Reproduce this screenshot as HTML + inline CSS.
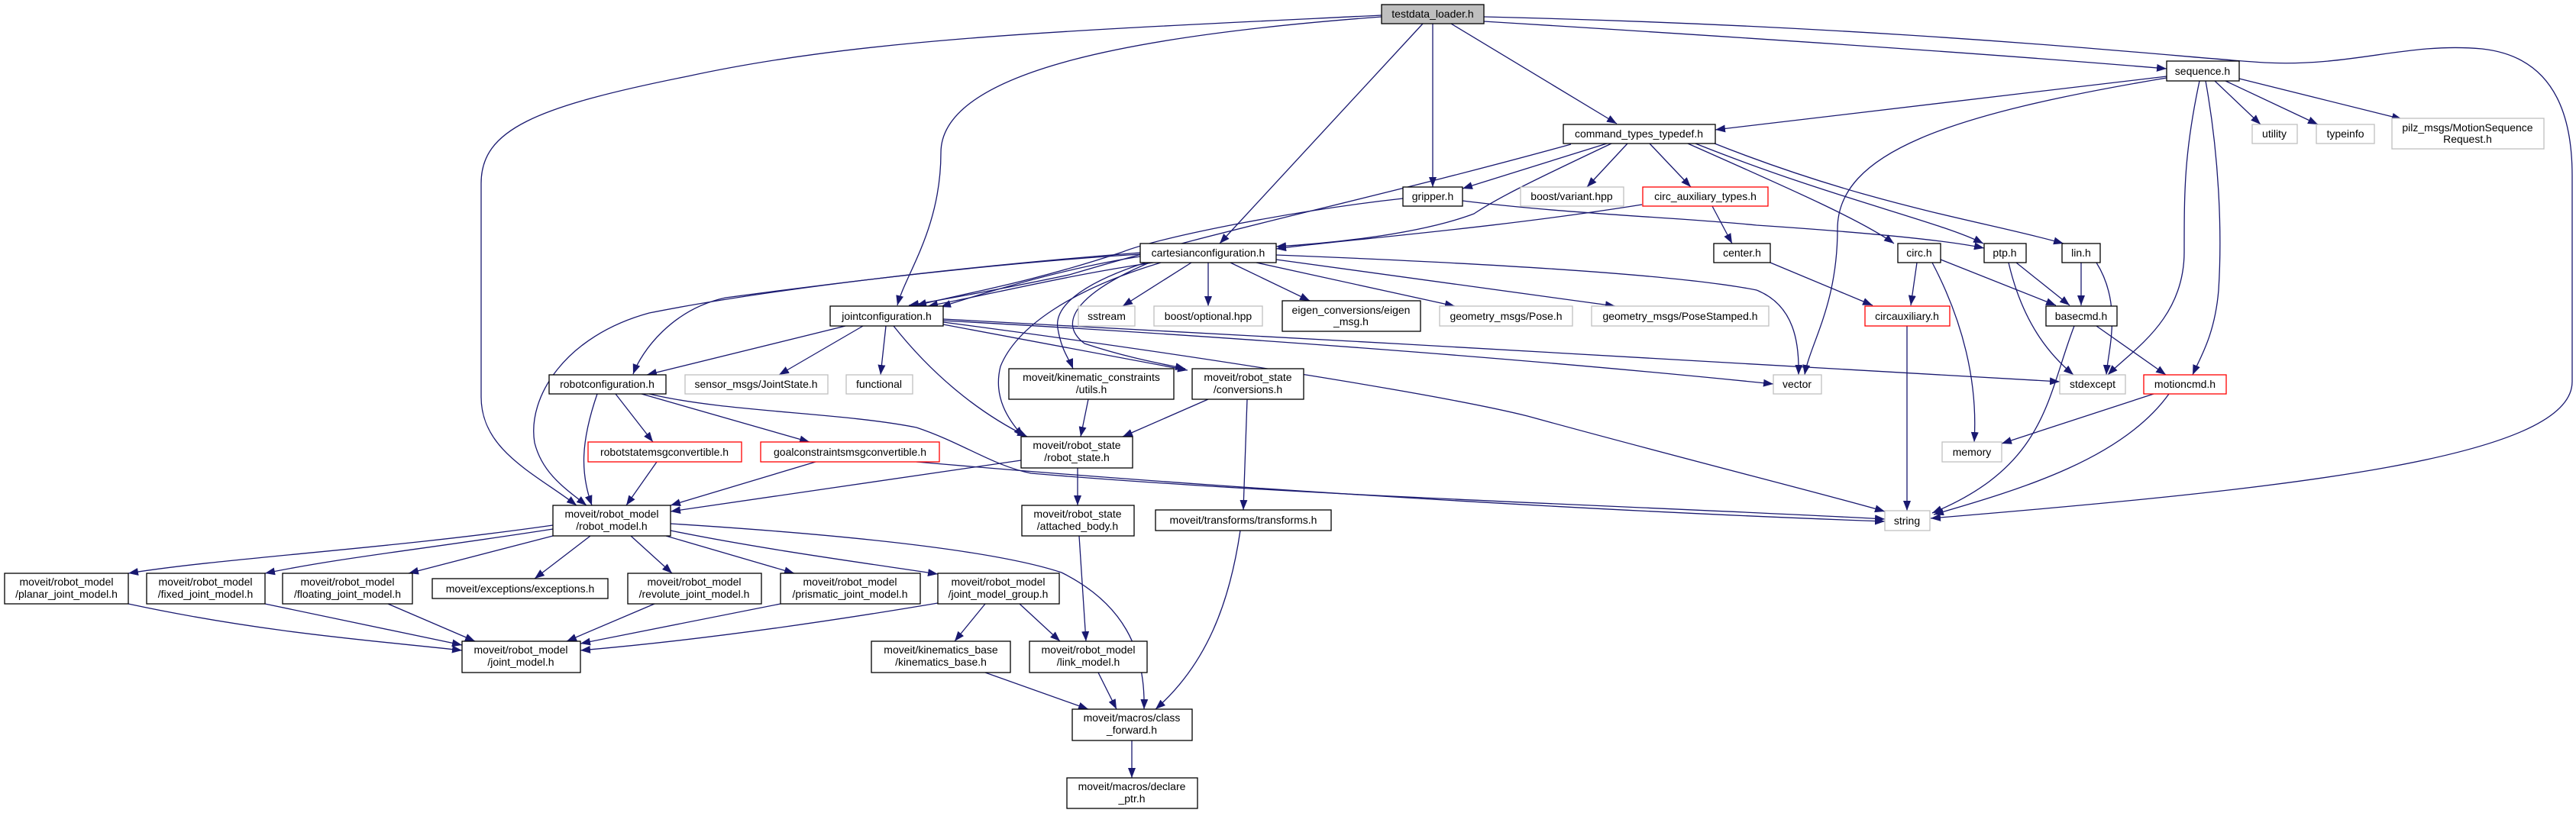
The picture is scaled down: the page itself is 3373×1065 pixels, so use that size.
<!DOCTYPE html>
<html><head><meta charset="utf-8"><style>
html,body{margin:0;padding:0;background:#fff;}
svg{display:block;}
text{font-family:"Liberation Sans",sans-serif;font-size:14px;fill:#000;text-anchor:middle;}
.e{fill:none;stroke:#191970;stroke-width:1.3;marker-end:url(#a);}
.n{fill:#fff;stroke:#000;stroke-width:1.3;}
.g{fill:#fff;stroke:#bfbfbf;stroke-width:1.3;}
.r{fill:#fff;stroke:#ff0000;stroke-width:1.3;}
</style></head><body>
<svg width="3373" height="1065" viewBox="0 0 3373 1065" xmlns="http://www.w3.org/2000/svg">
<defs><marker id="a" markerUnits="userSpaceOnUse" markerWidth="14" markerHeight="10" refX="13" refY="5" orient="auto"><path d="M0,0 L13,5 L0,10 z" fill="#191970"/></marker></defs>
<g>
<path class="e" d="M1943,28 C2300,50 2600,70 2837,90"/>
<path class="e" d="M1943,22 C2500,35 2850,75 2965,82 C3080,88 3150,55 3250,64 C3350,75 3368,160 3368,230 L3368,500 C3368,600 3000,640 2528,679"/>
<path class="e" d="M1900,31 L2117,162"/>
<path class="e" d="M1876,31 L1876,245"/>
<path class="e" d="M1863,31 L1597,319"/>
<path class="e" d="M1809,22 C1500,45 1232,90 1232,200 C1232,300 1185,360 1175,400"/>
<path class="e" d="M1809,20 C1400,40 1130,50 900,100 C700,140 630,170 630,240 L630,520 C630,590 700,620 755,662"/>
<path class="e" d="M2837,100 L2246,170"/>
<path class="e" d="M2837,102 C2550,150 2406,200 2406,300 C2406,400 2370,450 2363,491"/>
<path class="e" d="M2880,106 C2860,200 2860,250 2860,330 C2860,420 2790,460 2760,491"/>
<path class="e" d="M2888,106 C2905,200 2910,300 2905,380 C2900,440 2880,470 2871,491"/>
<path class="e" d="M2900,106 L2960,163"/>
<path class="e" d="M2914,106 L3035,163"/>
<path class="e" d="M2932,103 L3145,156"/>
<path class="e" d="M2104,188 L1915,247"/>
<path class="e" d="M2131,188 L2078,245"/>
<path class="e" d="M2160,188 L2214,245"/>
<path class="e" d="M2110,188 C2000,240 1960,260 1930,280 C1850,310 1720,320 1671,323"/>
<path class="e" d="M2057,189 C1800,260 1600,300 1400,360 C1280,385 1220,395 1190,400"/>
<path class="e" d="M2210,188 C2350,250 2440,290 2480,319"/>
<path class="e" d="M2220,188 C2400,260 2540,290 2597,319"/>
<path class="e" d="M2240,186 C2450,270 2600,290 2702,319"/>
<path class="e" d="M1837,260 C1700,275 1520,310 1470,330 C1350,370 1260,385 1200,400"/>
<path class="e" d="M1915,263 C2050,280 2200,285 2300,295 C2450,305 2550,315 2598,325"/>
<path class="e" d="M2242,270 L2268,319"/>
<path class="e" d="M2150,268 C1950,300 1750,315 1671,326"/>
<path class="e" d="M2318,344 L2452,400"/>
<path class="e" d="M2510,344 L2502,400"/>
<path class="e" d="M2541,340 L2692,400"/>
<path class="e" d="M2530,344 C2570,420 2590,500 2585,579"/>
<path class="e" d="M2640,344 L2710,400"/>
<path class="e" d="M2630,344 C2650,430 2690,470 2715,491"/>
<path class="e" d="M2725,344 L2725,400"/>
<path class="e" d="M2745,344 C2780,400 2760,460 2758,491"/>
<path class="e" d="M2497,427 L2497,669"/>
<path class="e" d="M2745,427 L2836,491"/>
<path class="e" d="M2716,427 C2680,520 2680,610 2530,672"/>
<path class="e" d="M2820,516 L2621,581"/>
<path class="e" d="M2840,516 C2780,600 2650,640 2532,674"/>
<path class="e" d="M1493,336 C1400,350 1300,380 1232,402"/>
<path class="e" d="M1510,344 C1400,360 1300,385 1215,401"/>
<path class="e" d="M1493,333 C1300,345 1100,370 950,390 C880,405 840,460 829,490"/>
<path class="e" d="M1493,331 C1250,350 1000,380 850,410 C740,440 690,520 700,580 C710,620 740,640 768,662"/>
<path class="e" d="M1560,344 L1470,401"/>
<path class="e" d="M1582,344 L1582,401"/>
<path class="e" d="M1611,344 L1715,394"/>
<path class="e" d="M1645,344 L1905,401"/>
<path class="e" d="M1671,340 L2115,401"/>
<path class="e" d="M1671,334 C1950,345 2200,360 2300,380 C2350,400 2356,450 2355,491"/>
<path class="e" d="M1500,344 C1420,370 1380,400 1385,430 C1390,460 1400,470 1405,483"/>
<path class="e" d="M1505,344 C1420,380 1380,420 1420,450 C1480,470 1530,478 1552,483"/>
<path class="e" d="M1520,344 C1400,380 1330,430 1310,480 C1300,520 1320,550 1340,572"/>
<path class="e" d="M1107,427 L847,491"/>
<path class="e" d="M1130,427 L1020,491"/>
<path class="e" d="M1160,427 L1153,491"/>
<path class="e" d="M1170,427 C1220,490 1280,540 1345,572"/>
<path class="e" d="M1235,425 L1555,485"/>
<path class="e" d="M1235,420 C1600,440 2000,470 2322,503"/>
<path class="e" d="M1235,418 C1700,440 2300,480 2697,500"/>
<path class="e" d="M1235,422 C1600,470 1900,520 2000,545 C2200,600 2400,650 2468,670"/>
<path class="e" d="M850,516 C950,540 1100,540 1200,560 C1260,580 1300,610 1350,620 C1700,650 2200,665 2468,680"/>
<path class="e" d="M1200,605 C1600,640 2100,670 2468,683"/>
<path class="e" d="M782,516 C760,580 760,620 775,662"/>
<path class="e" d="M806,516 L855,579"/>
<path class="e" d="M840,516 L1060,579"/>
<path class="e" d="M860,605 L820,662"/>
<path class="e" d="M1068,605 L878,662"/>
<path class="e" d="M1425,523 L1415,572"/>
<path class="e" d="M1582,523 L1470,572"/>
<path class="e" d="M1633,523 L1628,668"/>
<path class="e" d="M1337,603 L878,670"/>
<path class="e" d="M1411,613 L1411,662"/>
<path class="e" d="M1413,702 L1422,840"/>
<path class="e" d="M1624,695 C1610,790 1580,870 1513,929"/>
<path class="e" d="M724,688 C500,720 300,730 168,751"/>
<path class="e" d="M724,693 C550,720 450,730 347,751"/>
<path class="e" d="M724,702 L535,751"/>
<path class="e" d="M773,702 L700,758"/>
<path class="e" d="M826,702 L880,751"/>
<path class="e" d="M872,702 L1040,751"/>
<path class="e" d="M878,695 C1000,720 1150,740 1228,752"/>
<path class="e" d="M878,686 C1100,700 1300,720 1390,750 C1470,790 1500,850 1498,929"/>
<path class="e" d="M168,791 C350,830 500,840 605,852"/>
<path class="e" d="M347,791 L605,845"/>
<path class="e" d="M508,791 L622,840"/>
<path class="e" d="M857,791 L742,840"/>
<path class="e" d="M1022,791 L760,843"/>
<path class="e" d="M1228,790 C1050,820 900,840 760,852"/>
<path class="e" d="M1290,791 L1250,840"/>
<path class="e" d="M1335,791 L1388,840"/>
<path class="e" d="M1290,881 L1425,929"/>
<path class="e" d="M1438,881 L1462,929"/>
<path class="e" d="M1482,970 L1482,1019"/>
</g>
<g>
<rect x="1809" y="6" width="134" height="25" fill="#bfbfbf" stroke="#000" stroke-width="1.3"/><text x="1876" y="23">testdata_loader.h</text>
<rect class="n" x="2837" y="80" width="95" height="26"/><text x="2884" y="98">sequence.h</text>
<rect class="n" x="2047" y="163" width="199" height="25"/><text x="2146" y="180">command_types_typedef.h</text>
<rect class="g" x="2949" y="163" width="59" height="25"/><text x="2978" y="180">utility</text>
<rect class="g" x="3033" y="163" width="76" height="25"/><text x="3071" y="180">typeinfo</text>
<rect class="g" x="3132" y="155" width="199" height="40"/><text x="3231" y="172">pilz_msgs/MotionSequence</text><text x="3231" y="187">Request.h</text>
<rect class="n" x="1837" y="245" width="78" height="25"/><text x="1876" y="262">gripper.h</text>
<rect class="g" x="1991" y="245" width="135" height="25"/><text x="2058" y="262">boost/variant.hpp</text>
<rect class="r" x="2151" y="245" width="164" height="25"/><text x="2233" y="262">circ_auxiliary_types.h</text>
<rect class="n" x="1493" y="319" width="178" height="25"/><text x="1582" y="336">cartesianconfiguration.h</text>
<rect class="n" x="2244" y="319" width="74" height="25"/><text x="2281" y="336">center.h</text>
<rect class="n" x="2485" y="319" width="56" height="25"/><text x="2513" y="336">circ.h</text>
<rect class="n" x="2598" y="319" width="55" height="25"/><text x="2625" y="336">ptp.h</text>
<rect class="n" x="2700" y="319" width="50" height="25"/><text x="2725" y="336">lin.h</text>
<rect class="n" x="1087" y="401" width="148" height="26"/><text x="1161" y="419">jointconfiguration.h</text>
<rect class="g" x="1412" y="401" width="74" height="26"/><text x="1449" y="419">sstream</text>
<rect class="g" x="1511" y="401" width="142" height="26"/><text x="1582" y="419">boost/optional.hpp</text>
<rect class="n" x="1679" y="394" width="181" height="40"/><text x="1769" y="411">eigen_conversions/eigen</text><text x="1769" y="426">_msg.h</text>
<rect class="g" x="1885" y="401" width="174" height="26"/><text x="1972" y="419">geometry_msgs/Pose.h</text>
<rect class="g" x="2084" y="401" width="232" height="26"/><text x="2200" y="419">geometry_msgs/PoseStamped.h</text>
<rect class="r" x="2442" y="401" width="111" height="26"/><text x="2497" y="419">circauxiliary.h</text>
<rect class="n" x="2679" y="401" width="93" height="26"/><text x="2725" y="419">basecmd.h</text>
<rect class="n" x="719" y="491" width="153" height="25"/><text x="795" y="508">robotconfiguration.h</text>
<rect class="g" x="897" y="491" width="187" height="25"/><text x="990" y="508">sensor_msgs/JointState.h</text>
<rect class="g" x="1108" y="491" width="87" height="25"/><text x="1151" y="508">functional</text>
<rect class="n" x="1321" y="483" width="216" height="40"/><text x="1429" y="499">moveit/kinematic_constraints</text><text x="1429" y="515">/utils.h</text>
<rect class="n" x="1561" y="483" width="146" height="40"/><text x="1634" y="499">moveit/robot_state</text><text x="1634" y="515">/conversions.h</text>
<rect class="g" x="2322" y="491" width="63" height="25"/><text x="2353" y="508">vector</text>
<rect class="g" x="2697" y="491" width="86" height="25"/><text x="2740" y="508">stdexcept</text>
<rect class="r" x="2807" y="491" width="108" height="25"/><text x="2861" y="508">motioncmd.h</text>
<rect class="r" x="770" y="579" width="201" height="26"/><text x="870" y="597">robotstatemsgconvertible.h</text>
<rect class="r" x="996" y="579" width="234" height="26"/><text x="1113" y="597">goalconstraintsmsgconvertible.h</text>
<rect class="n" x="1337" y="572" width="146" height="41"/><text x="1410" y="588">moveit/robot_state</text><text x="1410" y="604">/robot_state.h</text>
<rect class="g" x="2543" y="579" width="78" height="26"/><text x="2582" y="597">memory</text>
<rect class="n" x="724" y="662" width="154" height="40"/><text x="801" y="678">moveit/robot_model</text><text x="801" y="694">/robot_model.h</text>
<rect class="n" x="1338" y="662" width="147" height="40"/><text x="1411" y="678">moveit/robot_state</text><text x="1411" y="694">/attached_body.h</text>
<rect class="n" x="1513" y="668" width="230" height="27"/><text x="1628" y="686">moveit/transforms/transforms.h</text>
<rect class="g" x="2468" y="669" width="59" height="26"/><text x="2497" y="687">string</text>
<rect class="n" x="6" y="751" width="162" height="40"/><text x="87" y="767">moveit/robot_model</text><text x="87" y="783">/planar_joint_model.h</text>
<rect class="n" x="192" y="751" width="155" height="40"/><text x="269" y="767">moveit/robot_model</text><text x="269" y="783">/fixed_joint_model.h</text>
<rect class="n" x="370" y="751" width="170" height="40"/><text x="455" y="767">moveit/robot_model</text><text x="455" y="783">/floating_joint_model.h</text>
<rect class="n" x="566" y="758" width="230" height="26"/><text x="681" y="776">moveit/exceptions/exceptions.h</text>
<rect class="n" x="822" y="751" width="175" height="40"/><text x="909" y="767">moveit/robot_model</text><text x="909" y="783">/revolute_joint_model.h</text>
<rect class="n" x="1022" y="751" width="183" height="40"/><text x="1113" y="767">moveit/robot_model</text><text x="1113" y="783">/prismatic_joint_model.h</text>
<rect class="n" x="1228" y="751" width="159" height="40"/><text x="1307" y="767">moveit/robot_model</text><text x="1307" y="783">/joint_model_group.h</text>
<rect class="n" x="605" y="840" width="155" height="41"/><text x="682" y="856">moveit/robot_model</text><text x="682" y="872">/joint_model.h</text>
<rect class="n" x="1141" y="840" width="182" height="41"/><text x="1232" y="856">moveit/kinematics_base</text><text x="1232" y="872">/kinematics_base.h</text>
<rect class="n" x="1348" y="840" width="154" height="41"/><text x="1425" y="856">moveit/robot_model</text><text x="1425" y="872">/link_model.h</text>
<rect class="n" x="1404" y="929" width="157" height="41"/><text x="1482" y="945">moveit/macros/class</text><text x="1482" y="961">_forward.h</text>
<rect class="n" x="1397" y="1019" width="171" height="40"/><text x="1482" y="1035">moveit/macros/declare</text><text x="1482" y="1051">_ptr.h</text>
</g>
</svg>
</body></html>
